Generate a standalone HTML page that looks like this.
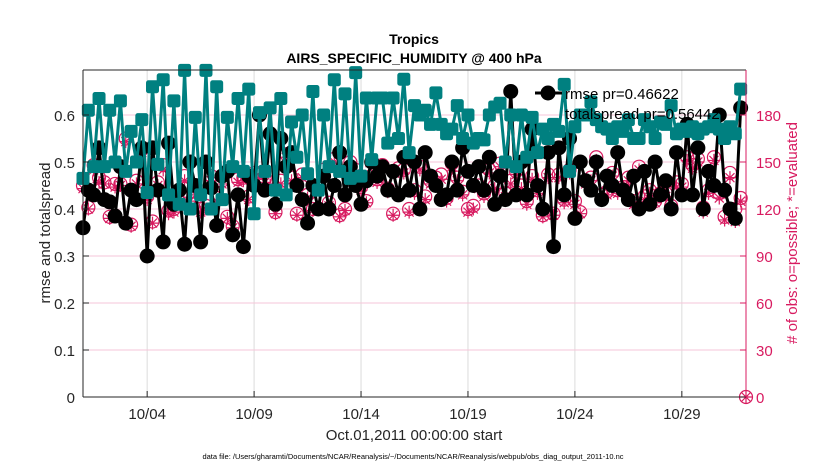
<!DOCTYPE html>
<html><head><meta charset="utf-8"><style>
body{margin:0;background:#fff;}
svg text{font-family:"Liberation Sans",sans-serif;}
</style></head><body>
<svg id="chart" width="830" height="470" xmlns="http://www.w3.org/2000/svg">
<rect width="830" height="470" fill="#fff"/>
<g id="grid"></g>
<g id="series"></g>
<g id="axes"></g>
<text x="414" y="44" text-anchor="middle" font-size="14" font-weight="bold">Tropics</text>
<text x="414" y="63" text-anchor="middle" font-size="14" font-weight="bold">AIRS_SPECIFIC_HUMIDITY @ 400 hPa</text>
<text x="414" y="440" text-anchor="middle" font-size="15" fill="#262626">Oct.01,2011 00:00:00 start</text>
<text x="413" y="459" text-anchor="middle" font-size="7.5" fill="#000">data file: /Users/gharamti/Documents/NCAR/Reanalysis/~/Documents/NCAR/Reanalysis/webpub/obs_diag_output_2011-10.nc</text>
<text transform="translate(50,233) rotate(-90)" text-anchor="middle" font-size="15" fill="#262626">rmse and totalspread</text>
<text transform="translate(797,233) rotate(-90)" text-anchor="middle" font-size="15" fill="#d81b60"># of obs: o=possible; *=evaluated</text>
<g>
<line x1="535" y1="93" x2="562" y2="93" stroke="#000" stroke-width="3"/>
<circle cx="548" cy="93" r="7.5" fill="#000"/>
<text x="565" y="99" font-size="15" fill="#000">rmse pr=0.46622</text>
<text x="565" y="119" font-size="15" fill="#000">totalspread pr=0.56442</text>
</g>
</svg>
<script>
const teal=[.465,.61,.49,.635,.49,.61,.50,.63,.48,.565,
.50,.59,.435,.66,.495,.675,.43,.63,.41,.695,
.40,.595,.43,.695,.40,.66,.42,.595,.49,.635,
.48,.655,.39,.605,.48,.615,.44,.635,.43,.585,
.51,.60,.475,.65,.44,.60,.49,.675,.48,.645,
.465,.69,.47,.636,.505,.636,.636,.54,.636,.55,
.676,.52,.62,.60,.61,.58,.647,.58,.56,.57,
.62,.55,.60,.54,.55,.547,.60,.617,.625,.50,
.60,.49,.60,.51,.595,.52,.57,.55,.58,.565,
.665,.48,.575,.60,.60,.628,.59,.575,.57,.55,
.575,.565,.59,.55,.55,.59,.575,.55,.585,.58,
.62,.56,.57,.565,.575,.56,.57,.575,.59,.57,
.55,.575,.56,.655];
const rmse=[.36,.44,.43,.53,.42,.415,.385,.49,.37,.44,
.42,.53,.30,.53,.44,.33,.54,.41,.44,.325,
.50,.45,.33,.50,.445,.365,.47,.48,.345,.43,
.32,.47,.45,.60,.44,.56,.41,.55,.49,.52,
.45,.42,.37,.45,.40,.47,.40,.45,.52,.43,
.49,.45,.41,.46,.50,.47,.49,.44,.48,.43,
.51,.44,.50,.40,.52,.47,.45,.42,.43,.50,
.44,.53,.48,.45,.49,.44,.51,.41,.47,.42,
.65,.43,.50,.43,.57,.45,.40,.52,.32,.53,
.43,.55,.38,.50,.46,.44,.50,.42,.47,.45,
.52,.44,.42,.47,.40,.48,.41,.50,.43,.46,
.40,.52,.43,.58,.43,.53,.40,.48,.45,.60,
.44,.40,.38,.615];
const possible=[135,121,148,140,137,115,136,136,165,110,
138,158,128,112,137,148,119,120,125,141,
127,131,120,122,141,127,138,115,109,139,
140,128,143,143,139,137,118,138,155,140,
117,142,129,120,134,145,124,152,116,120,
150,145,134,125,150,139,148,133,117,146,
145,120,132,147,128,138,140,142,127,149,
140,131,120,122,135,130,145,135,149,130,
138,144,135,125,141,132,116,142,117,142,
126,145,125,118,138,140,153,129,131,143,
132,134,140,125,147,128,132,125,130,130,
122,137,136,153,148,152,121,132,153,130,
115,143,120,127,0];
const evaluated=[133,120,145,137,136,114,134,135,163,109,
136,156,126,111,135,145,117,118,124,138,
125,129,118,120,138,125,136,114,108,137,
138,126,140,141,137,135,117,136,153,138,
116,140,127,119,132,142,122,150,115,119,
147,143,132,124,147,137,146,131,116,144,
143,118,130,145,126,136,138,139,125,147,
138,129,118,120,133,128,143,133,147,128,
136,142,133,123,139,130,115,140,116,140,
124,143,123,117,136,138,151,127,129,141,
130,132,138,123,145,126,130,124,128,128,
120,134,134,151,146,150,118,130,151,127,
113,140,112,125,0];
const yTicks=[0,0.1,0.2,0.3,0.4,0.5,0.6];
const rTicks=[0,30,60,90,120,150,180];
const xTickDays=[3,8,13,18,23,28];
const xTickLabels=['10/04','10/09','10/14','10/19','10/24','10/29'];

const L=83,R=746,T=70,B=397,yMax=0.6957,nSteps=124,days=31;
const NS='http://www.w3.org/2000/svg';
const xi=i=>L+i*(R-L)/nSteps;
const xd=d=>L+d*(R-L)/days;
const yv=v=>B-v/yMax*(B-T);
const yc=c=>yv(c/300);
function mk(tag,attrs,parent){const e=document.createElementNS(NS,tag);for(const k in attrs)e.setAttribute(k,attrs[k]);parent.appendChild(e);return e;}
const grid=document.getElementById('grid'),ser=document.getElementById('series'),ax=document.getElementById('axes');

xTickDays.forEach((d,k)=>{
 const l=mk('line',{x1:xd(d),x2:xd(d),y1:T,y2:B,stroke:'#dcdcdc','stroke-width':1},grid);
 
 
 mk('line',{x1:xd(d),x2:xd(d),y1:B,y2:B-6,stroke:'#262626'},ax);
 const t=mk('text',{x:xd(d),y:B+22,'text-anchor':'middle','font-size':15,fill:'#262626'},ax);
 t.textContent=xTickLabels[k];
 
 
});
rTicks.forEach(c=>{
 if(c>0){const l=mk('line',{x1:L,x2:R,y1:yc(c),y2:yc(c),stroke:'#f6c6d8','stroke-width':1},grid);
 
 }
 mk('line',{x1:R,x2:R-6,y1:yc(c),y2:yc(c),stroke:'#d81b60'},ax);
 const t=mk('text',{x:R+10,y:yc(c)+6,'font-size':15,fill:'#d81b60'},ax);
 t.textContent=c;
 
 
});
yTicks.forEach(v=>{
 mk('line',{x1:L,x2:L+6,y1:yv(v),y2:yv(v),stroke:'#262626'},ax);
 const t=mk('text',{x:L-8,y:yv(v)+6,'text-anchor':'end','font-size':15,fill:'#262626'},ax);
 t.textContent=v===0?'0':v.toFixed(1);
 
 
});

const pc='#d81b60';
possible.forEach((c,i)=>{
 const g=mk('circle',{cx:xi(i),cy:yc(c),r:6.5,fill:'none',stroke:pc,'stroke-width':1.2},ser);
 
 
});
evaluated.forEach((c,i)=>{
 const x=xi(i),y=yc(c),s=6.5;
 const p=mk('path',{d:`M${x-s} ${y}H${x+s}M${x} ${y-s}V${y+s}M${x-4.5} ${y-4.5}L${x+4.5} ${y+4.5}M${x-4.5} ${y+4.5}L${x+4.5} ${y-4.5}`,stroke:pc,'stroke-width':1.2,fill:'none'},ser);
 
 
});
const rl=mk('polyline',{points:rmse.map((v,i)=>xi(i)+','+yv(v)).join(' '),fill:'none',stroke:'#000','stroke-width':3},ser);


rmse.forEach((v,i)=>{
 const c=mk('circle',{cx:xi(i),cy:yv(v),r:7.5,fill:'#000'},ser);
 
 
});
const tc='#008080';
const tl=mk('polyline',{points:teal.map((v,i)=>xi(i)+','+yv(v)).join(' '),fill:'none',stroke:tc,'stroke-width':3},ser);


teal.forEach((v,i)=>{
 const r=mk('rect',{x:xi(i)-6.5,y:yv(v)-6.5,width:13,height:13,rx:2.5,fill:tc},ser);
 
 
});
mk('line',{x1:L,x2:R,y1:T,y2:T,stroke:'#262626'},ax);
mk('line',{x1:L,x2:R,y1:B,y2:B,stroke:'#262626'},ax);
mk('line',{x1:L,x2:L,y1:T,y2:B,stroke:'#262626'},ax);
mk('line',{x1:R,x2:R,y1:T,y2:B,stroke:'#d81b60'},ax);
</script>
</body></html>
